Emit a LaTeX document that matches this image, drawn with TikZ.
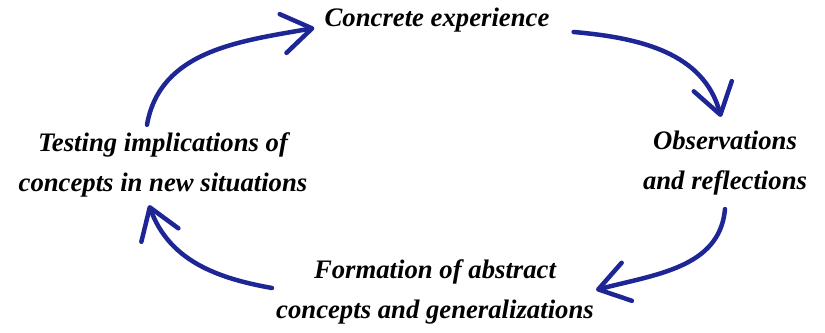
\documentclass[tikz,border=0pt]{standalone}
\usepackage{fontspec}
\setmainfont{Liberation Serif}
\usetikzlibrary{arrows.meta}
\definecolor{cycleblue}{RGB}{30,38,150}
\tikzset{
    stage/.style={align=center, inner sep=0pt, font=\fontsize{19}{28}\selectfont\bfseries\itshape},
    cyclearrow/.style={draw=cycleblue, line width=3.2pt, line cap=round,
        -{Straight Barb[length=21pt, width=28pt, round]}},
}

\begin{document}
\begin{tikzpicture}
    \useasboundingbox (0, 0) rectangle (20.625, 8.325);
    \node[stage] (concrete) at (10.925, 7.825) {Concrete experience};
    \node[stage] (observ) at (18.125, 4.25) {Observations\\and reflections};
    \node[stage] (formation) at (10.875, 1.025) {Formation of abstract\\concepts and generalizations};
    \node[stage] (testing) at (4.075, 4.2) {Testing implications of\\concepts in new situations};
    \draw
    ([xshift=-0.4cm, yshift=0.2cm]testing.north) edge[cyclearrow, out=80, in=190] ([xshift=-0.25cm, yshift=-0.2cm]concrete.west)
    ([xshift=0.6cm, yshift=-0.3cm]concrete.east) edge[cyclearrow, out=-5, in=105] ([xshift=-0.1cm, yshift=0.35cm]observ.north)
    ([yshift=-0.35cm]observ.south) edge[cyclearrow, out=-95, in=15] ([xshift=0.05cm, yshift=0.05cm]formation.east)
    ([xshift=-0.1cm, yshift=0.1cm]formation.west) edge[cyclearrow, out=170, in=-70] ([xshift=-0.35cm, yshift=-0.2cm]testing.south);
\end{tikzpicture}
\end{document}
